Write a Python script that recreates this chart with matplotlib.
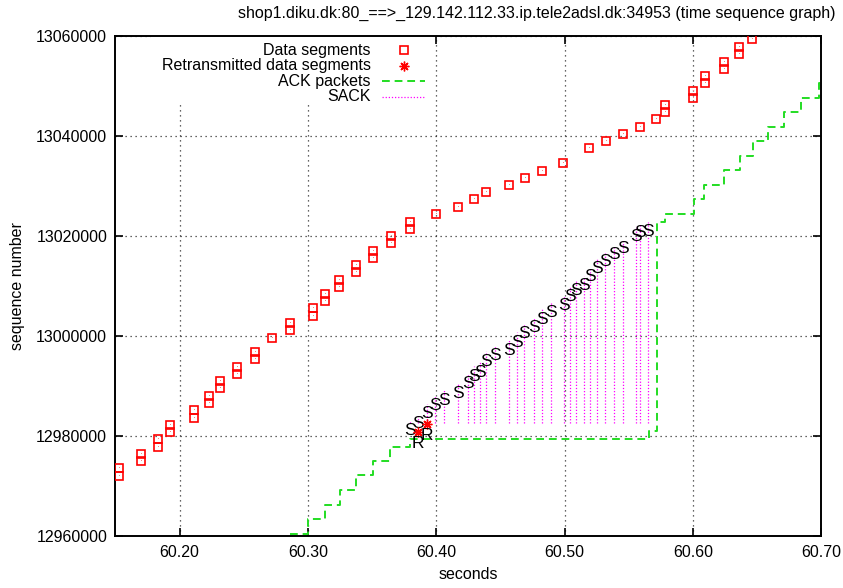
import matplotlib
matplotlib.use("Agg")
import numpy as np
from matplotlib import pyplot as plt
from matplotlib.patches import Rectangle
from matplotlib.lines import Line2D

plt.rcParams['font.family'] = ['Liberation Sans', 'DejaVu Sans']

TITLE = "shop1.diku.dk:80_==>_129.142.112.33.ip.tele2adsl.dk:34953 (time sequence graph)"

# data segments: send time, start seq, length (0 = single marker)
seg_time = [60.1525, 60.1701, 60.1829, 60.1923, 60.2115, 60.2232, 60.2317, 60.2450,
            60.2588, 60.2718, 60.2861, 60.3038, 60.3130, 60.3246, 60.3376, 60.3511,
            60.3647, 60.3797, 60.3996, 60.4169, 60.4296, 60.4388, 60.4564, 60.4694,
            60.4824, 60.4988, 60.5193, 60.5324, 60.5453, 60.5586, 60.5716, 60.5781,
            60.6005, 60.6092, 60.6247, 60.6358, 60.6465]
seg_seq = [12972160, 12975100, 12977960, 12980900, 12983760, 12986620, 12989560, 12992420,
           12995360, 12999700, 13001160, 13004100, 13007020, 13009820, 13012820, 13015620,
           13018620, 13021420, 13024420, 13025820, 13027300, 13028700, 13030160, 13031620,
           13033020, 13034500, 13037500, 13038960, 13040360, 13041820, 13043360, 13044700,
           13047560, 13050520, 13053360, 13056300, 13059360]
seg_len = [1448, 1448, 1448, 1448, 1448, 1448, 1448, 1448,
           1448, 0, 1448, 1448, 1448, 1448, 1448, 1448,
           1448, 1448, 0, 0, 0, 0, 0, 0,
           0, 0, 0, 0, 0, 0, 0, 1448,
           1448, 1448, 1448, 1448, 0]

# retransmitted segments
rtx_time = [60.3857, 60.3927]
rtx_seq = [12980960, 12982500]

# cumulative ACKs (step changes)
ack_time = [60.2861, 60.3004, 60.3134, 60.3251, 60.3376, 60.3511, 60.3641, 60.3797,
            60.5656, 60.5722, 60.5786, 60.6007, 60.6090, 60.6241, 60.6371, 60.6470,
            60.6584, 60.6709, 60.6845, 60.6982, 60.7000]
ack_seq = [12960500, 12963500, 12966360, 12969300, 12972300, 12975020, 12977960, 12979460,
           12981020, 13022820, 13024360, 13027300, 13030160, 13033160, 13035960, 13038960,
           13041820, 13044700, 13047620, 13050500, 13050500]

# SACK blocks: time, left edge, right edge
sack_time = [60.3792, 60.3857, 60.3927, 60.3992, 60.4057, 60.4166, 60.4244, 60.4296,
             60.4338, 60.4388, 60.4455, 60.4564, 60.4629, 60.4686, 60.4759, 60.4824,
             60.4897, 60.4998, 60.5040, 60.5092, 60.5149, 60.5201, 60.5254, 60.5318,
             60.5383, 60.5453, 60.5558, 60.5591, 60.5654]
sack_lo = [12982760] * len(sack_time)
sack_hi = [12983160, 12984500, 12986500, 12988160, 12989160, 12990620, 12992500, 12993960,
           12994820, 12996960, 12998160, 12999160, 13000820, 13002500, 13003820, 13005360,
           13006820, 13008100, 13009820, 13011160, 13012100, 13013820, 13015500, 13016820,
           13018300, 13019500, 13021960, 13022620, 13022820]

xticks = [60.20, 60.30, 60.40, 60.50, 60.60, 60.70]
yticks = [12960000, 12980000, 13000000, 13020000, 13040000, 13060000]

RED = '#ff0000'
GREEN = '#22dd22'
MAGENTA = '#ff00ff'
FS = 11.5

fig = plt.figure(figsize=(8.43, 5.88), dpi=100)
ax = fig.add_axes([0.137, 0.0876, 0.837, 0.8517])

ax.set_xlim(60.15, 60.70)
ax.set_ylim(12960000, 13060000)

# SACK ranges
ax.vlines(sack_time, sack_lo, sack_hi, colors=MAGENTA, linestyles=(0, (1, 1.5)),
          linewidth=0.9, zorder=2)
for t, hi in zip(sack_time, sack_hi):
    ax.annotate('S', xy=(t, hi), xytext=(0, -10), textcoords='offset pixels',
                ha='center', va='center', fontsize=12.5, color='black', zorder=4)

# ACK line
ax.step(ack_time, ack_seq, where='post', color=GREEN, linestyle=(0, (4, 2.5)),
        linewidth=1.4, zorder=3)

# data segments, marker at each end
seg_time = np.array(seg_time)
seg_seq = np.array(seg_seq)
seg_len = np.array(seg_len)
two = seg_len > 0
mk = dict(marker='s', markersize=5.8, markerfacecolor='none', markeredgecolor=RED,
          markeredgewidth=1.2, linestyle='none', zorder=5)
ax.plot(seg_time, seg_seq, **mk)
ax.plot(seg_time[two], seg_seq[two] + seg_len[two], **mk)
ax.plot(seg_time, seg_seq, ',', color='#ff8080', zorder=6)
ax.plot(seg_time[two], seg_seq[two] + seg_len[two], ',', color='#ff8080', zorder=6)

# retransmissions
ax.plot(rtx_time, rtx_seq, linestyle='none', marker=(8, 2, 0), markersize=7,
        markeredgecolor=RED, markeredgewidth=1.0, zorder=6)
for t, s in zip(rtx_time, rtx_seq):
    ax.annotate('R', xy=(t, s), xytext=(0, -12), textcoords='offset pixels',
                ha='center', va='center', fontsize=12.5, color='black', zorder=6)

# axes styling
ax.set_xticks(xticks)
ax.set_xticklabels(['%.2f' % v for v in xticks])
ax.set_yticks(yticks)
ax.set_yticklabels(['%d' % v for v in yticks])
ax.tick_params(direction='in', length=6, width=1.2, top=True, right=True,
               labelsize=FS, pad=6)
ax.grid(True, color='black', linestyle=(0, (1, 3)), linewidth=0.9, alpha=0.8)
ax.set_axisbelow(True)
for sp in ax.spines.values():
    sp.set_linewidth(1.4)

ax.set_xlabel('seconds', fontsize=FS, labelpad=5)
ax.set_ylabel('sequence number', fontsize=FS, labelpad=8)
fig.text(0.637, 0.978, TITLE, ha='center', va='center', fontsize=FS)

# key in the upper left, text right-aligned with the sample after it
ax.add_patch(Rectangle((0.05, 0.862), 0.40, 0.138, transform=ax.transAxes,
                       facecolor='white', edgecolor='none', zorder=1.5))
key_y = [0.9706, 0.9397, 0.9087, 0.8778]
key_text = ['Data segments', 'Retransmitted data segments', 'ACK packets', 'SACK']
for y, s in zip(key_y, key_text):
    ax.text(0.362, y, s, transform=ax.transAxes, ha='right', va='center',
            fontsize=FS, zorder=7)
ax.add_line(Line2D([0.409], [key_y[0]], transform=ax.transAxes, **mk))
ax.add_line(Line2D([0.409], [key_y[1]], transform=ax.transAxes, linestyle='none',
                   marker=(8, 2, 0), markersize=7, markeredgecolor=RED,
                   markeredgewidth=1.0, zorder=7))
ax.add_line(Line2D([0.3777, 0.4387], [key_y[2]] * 2, transform=ax.transAxes,
                   color=GREEN, linestyle=(0, (4, 2.5)), linewidth=1.4, zorder=7))
ax.add_line(Line2D([0.3777, 0.4387], [key_y[3]] * 2, transform=ax.transAxes,
                   color=MAGENTA, linestyle=(0, (1, 1.5)), linewidth=0.9, zorder=7))

fig.savefig('out.png', dpi=100)
